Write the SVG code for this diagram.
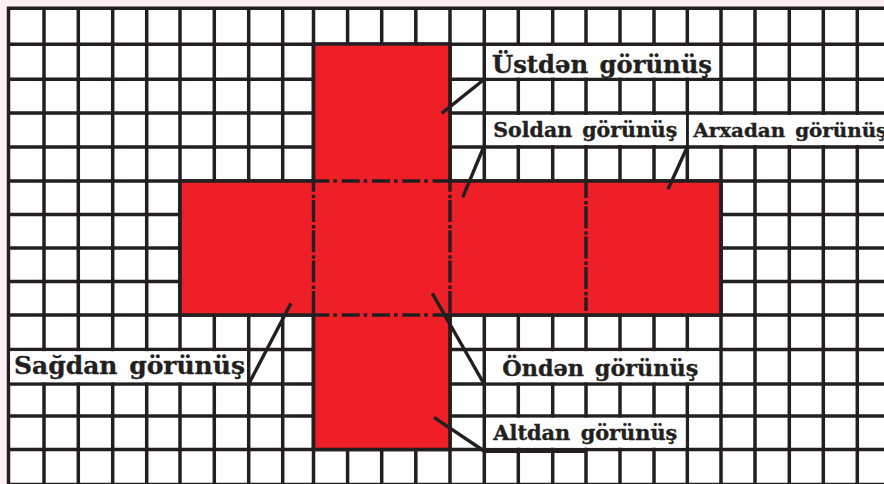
<svg xmlns="http://www.w3.org/2000/svg" width="884" height="484" viewBox="0 0 884 484">
<style>
.g{fill:none;stroke:#231f20;stroke-width:3.5}
.o{fill:none;stroke:#231f20;stroke-width:3.7}
.d{fill:none;stroke:#231f20;stroke-width:3.4;stroke-dasharray:18 4 3.5 4.8}
.v{fill:none;stroke:#231f20;stroke-width:3.4;stroke-dasharray:22 3 3.5 1.8}
.b{fill:#fff}
.t{font-family:"DejaVu Serif","Liberation Serif",serif;font-weight:700;fill:#231f20;stroke:#231f20;stroke-width:.35;word-spacing:3px}
</style>
<rect width="884" height="484" fill="#fdeef3"/>
<rect x="8" y="8" width="876" height="476" fill="#fff"/>
<g id="grid">
<path class="g" d="M7 8.3H884M7 44.3H884M7 79.3H884M7 113H884M7 147H884M7 181H884M7 214.5H884M7 248H884M7 281.5H884M7 315H884M7 349.5H884M7 384H884M7 416H884M7 449.5H884M7 484.5H884"/>
<path class="g" d="M8.5 7V484M44 7V484M78.3 7V484M112.7 7V484M146.7 7V484M180 7V484M214.3 7V484M248.7 7V484M282.7 7V484M313.5 7V484M347.6 7V484M381.7 7V484M415.8 7V484M450 7V484M484.3 7V484M518.3 7V484M552.7 7V484M586 7V484M620 7V484M654 7V484M687.3 7V484M721 7V484M755 7V484M789.3 7V484M823.3 7V484M857.3 7V484"/>
</g>
<g id="net">
<path d="M313.5 44H450V181H721V315H450V449.5H313.5V315H180V181H313.5Z" fill="#ee1f26"/>
<path class="o" d="M313.5 181V44H450V181M721 181V315M450 315V449.5H313.5V315M180 315V181M180 181H313.5M450 181H721M180 315H313.5M450 315H721"/>
<path class="d" d="M311.4 181H452M311.4 315H452"/>
<path class="v" stroke-dashoffset="11.3" d="M313.5 181V315M450 181V315"/>
<path class="v" stroke-dashoffset="5" d="M586 181V311"/>
</g>
<g id="label-ustden"><rect class="b" x="486" y="46" width="233" height="31.5"/><text class="t" x="492" y="72.7" font-size="24" textLength="220" lengthAdjust="spacingAndGlyphs">Üstdən görünüş</text></g>
<g id="label-soldan"><rect class="b" x="486" y="115" width="200" height="30"/><text class="t" x="493.3" y="137.3" font-size="20" textLength="184" lengthAdjust="spacingAndGlyphs">Soldan görünüş</text></g>
<g id="label-arxadan"><rect class="b" x="688.9" y="115" width="196" height="30"/><text class="t" x="693.3" y="137.3" font-size="19" textLength="194" lengthAdjust="spacingAndGlyphs">Arxadan görünüş</text></g>
<g id="label-sagdan"><rect class="b" x="10.2" y="351.2" width="236.8" height="31"/><text class="t" x="14" y="374" font-size="25" textLength="231" lengthAdjust="spacingAndGlyphs">Sağdan görünüş</text></g>
<g id="label-onden"><rect class="b" x="486" y="351.2" width="233.2" height="31"/><text class="t" x="502.3" y="376" font-size="22" textLength="196" lengthAdjust="spacingAndGlyphs">Öndən görünüş</text></g>
<g id="label-altdan"><rect class="b" x="486" y="417.8" width="199.6" height="29.9"/><text class="t" x="493.3" y="440" font-size="20" textLength="184" lengthAdjust="spacingAndGlyphs">Altdan görünüş</text></g>
<g id="connectors" fill="none" stroke="#231f20" stroke-width="3.4">
<path d="M484 79.5L441.7 113.3"/>
<path d="M483.5 147.5L462.7 197.3"/>
<path d="M687 147.5L668 189.3"/>
<path d="M249.5 382.5L291 303.3"/>
<path d="M432.3 293.3L483.8 383.5"/>
<path d="M434 417.3L484 451H586"/>
<path d="M484 451H586" stroke-width="4"/>
</g>
</svg>
